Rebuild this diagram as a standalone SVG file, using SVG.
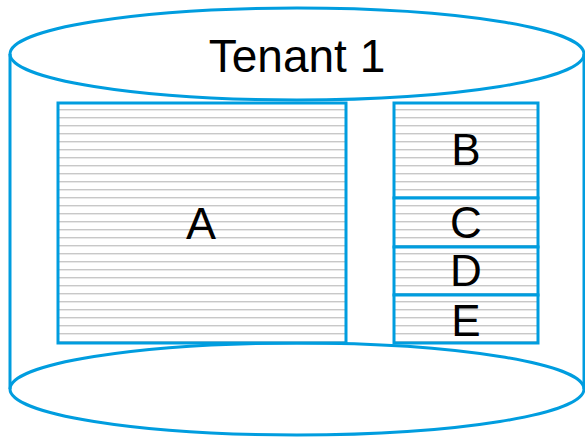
<svg xmlns="http://www.w3.org/2000/svg" width="585" height="442" viewBox="0 0 585 442">
<style>
.b{fill:none;stroke:#009ddf;stroke-width:3}
.r{fill:url(#h);stroke:#009ddf;stroke-width:3}
.t{font-family:"Liberation Sans",Arial,sans-serif;font-size:44px;fill:#000;text-anchor:middle}
</style>
<defs>
<pattern id="h" patternUnits="userSpaceOnUse" x="0" y="102" width="8" height="8">
<rect width="8" height="8" fill="#fff"/>
<line x1="0" y1="7.5" x2="8" y2="7.5" stroke="#c8c8c8" stroke-width="1"/>
<line x1="0" y1="0.5" x2="8" y2="0.5" stroke="#e8e8e8" stroke-width="1"/>
</pattern>
</defs>
<g id="cylinder">
<line class="b" x1="10" y1="54" x2="10" y2="389"/>
<line class="b" x1="584" y1="54" x2="584" y2="389"/>
<ellipse class="b" fill="#fff" cx="297" cy="389" rx="287" ry="46"/>
<ellipse class="b" cx="297" cy="54" rx="287" ry="46"/>
<text class="t" x="297" y="72" style="font-size:46px">Tenant 1</text>
</g>
<g id="A"><rect class="r" x="58" y="103" width="288" height="240"/><text class="t" x="201" y="239" style="font-size:45px">A</text></g>
<g id="B"><rect class="r" x="394" y="103" width="144" height="95"/><text class="t" x="466" y="165">B</text></g>
<g id="C"><rect class="r" x="394" y="198" width="144" height="49"/><text class="t" x="466" y="238">C</text></g>
<g id="D"><rect class="r" x="394" y="247" width="144" height="48"/><text class="t" x="466" y="286">D</text></g>
<g id="E"><rect class="r" x="394" y="295" width="144" height="48"/><text class="t" x="466" y="336">E</text></g>
</svg>
